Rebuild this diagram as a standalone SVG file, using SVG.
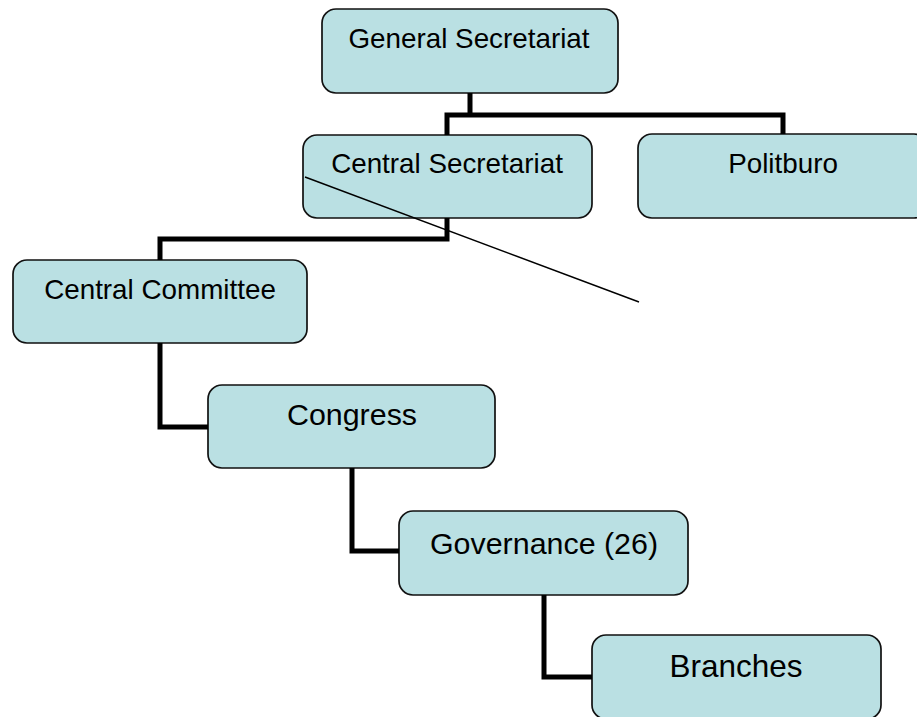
<svg xmlns="http://www.w3.org/2000/svg" width="917" height="717" viewBox="0 0 917 717">
<style>
.box{fill:#bae0e3;stroke:#111;stroke-width:1.7}
.t{font-family:"Liberation Sans",Arial,sans-serif;fill:#000;text-anchor:middle}
.s{font-size:27.8px}
.l{font-size:30.4px}
.c{fill:none;stroke:#000;stroke-width:5;stroke-linejoin:miter;stroke-linecap:butt}
.thin{fill:none;stroke:#000;stroke-width:1.5}
</style>
<rect width="917" height="717" fill="#fff"/>
<g id="general-secretariat"><rect class="box" x="322" y="9" width="296" height="84" rx="14"/><text class="t s" x="469" y="48">General Secretariat</text></g>
<g id="central-secretariat"><rect class="box" x="303" y="135" width="289" height="83" rx="14"/><text class="t s" x="447" y="173">Central Secretariat</text></g>
<g id="politburo"><rect class="box" x="638" y="134" width="290" height="84" rx="14"/><text class="t s" x="783" y="173">Politburo</text></g>
<g id="central-committee"><rect class="box" x="13" y="260" width="294" height="83" rx="14"/><text class="t s" x="160" y="299">Central Committee</text></g>
<g id="congress"><rect class="box" x="208" y="385" width="287" height="83" rx="14"/><text class="t l" x="352" y="425">Congress</text></g>
<g id="governance"><rect class="box" x="399" y="511" width="289" height="84" rx="14"/><text class="t l" x="544" y="554">Governance (26)</text></g>
<g id="branches"><rect class="box" x="592" y="635" width="289" height="84" rx="14"/><text class="t l" x="736" y="677" style="font-size:31.5px">Branches</text></g>
<g id="connectors">
<path class="c" d="M470 93 V115 M447 135 V115 H783 V134"/>
<path class="c" d="M447 218 V239 H160 V260"/>
<path class="c" d="M160 343 V427 H208"/>
<path class="c" d="M352 468 V551 H399"/>
<path class="c" d="M544 595 V677 H592"/>
<line class="thin" x1="305" y1="177" x2="639" y2="302"/>
</g>
</svg>
